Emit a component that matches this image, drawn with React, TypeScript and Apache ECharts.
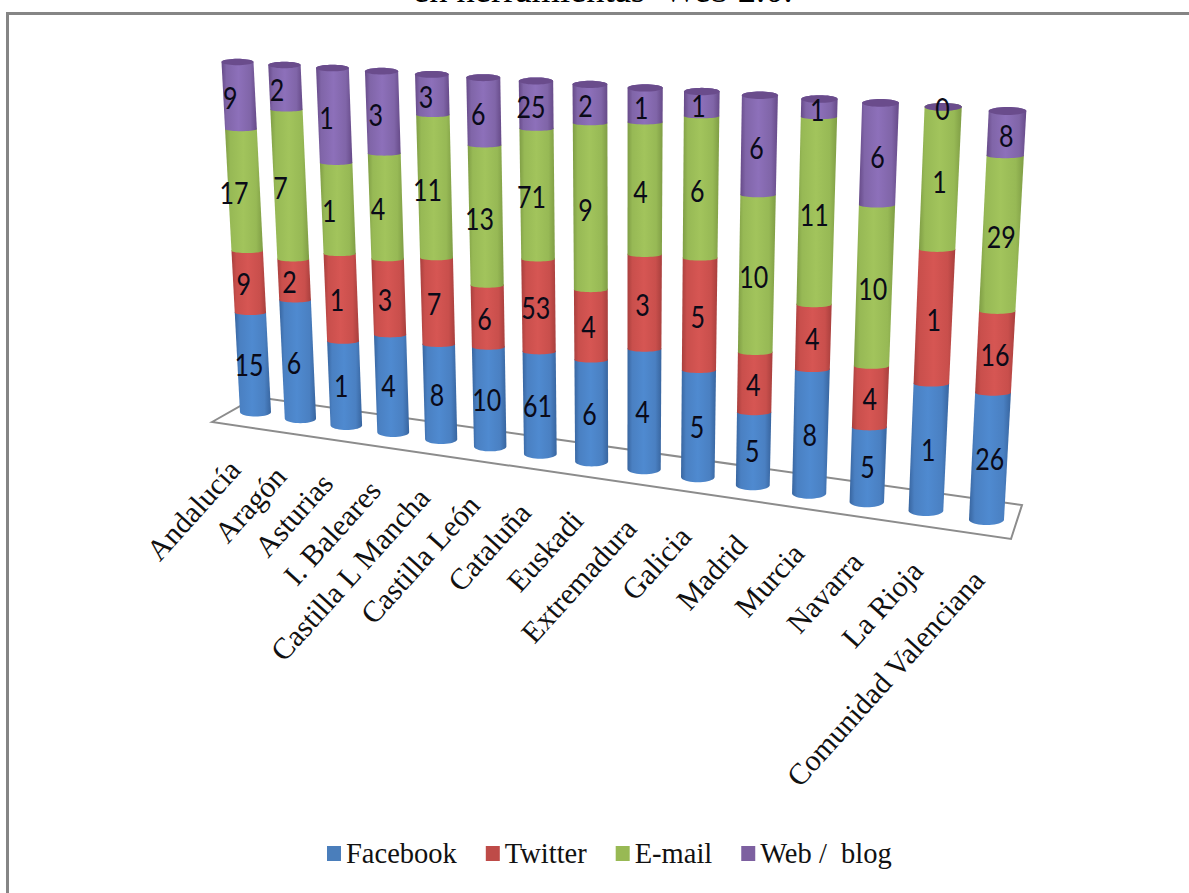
import React, { useEffect, useRef } from "react";
import * as echarts from "echarts";

const categories = ["Andalucía", "Aragón", "Asturias", "I. Baleares", "Castilla L Mancha", "Castilla León", "Cataluña", "Euskadi", "Extremadura", "Galicia", "Madrid", "Murcia", "Navarra", "La Rioja", "Comunidad Valenciana"];
const facebook = [15, 6, 1, 4, 8, 10, 61, 6, 4, 5, 5, 8, 5, 1, 26];
const twitter = [9, 2, 1, 3, 7, 6, 53, 4, 3, 5, 4, 4, 4, 1, 16];
const email = [17, 7, 1, 4, 11, 13, 71, 9, 4, 6, 10, 11, 10, 1, 29];
const webBlog = [9, 2, 1, 3, 3, 6, 25, 2, 1, 1, 6, 1, 6, 0, 8];
const seriesNames = ["Facebook", "Twitter", "E-mail", "Web /  blog"];
const seriesValues = [facebook, twitter, email, webBlog];
const titleText = "en herramientas  Web 2.0.";

const legendColors = ["#4a7ebb", "#be4b48", "#98b954", "#7d60a0"];
const shades = [
  ["#38659f", "#4a80c2", "#4f8ad0"],
  ["#a83f3d", "#c94f4c", "#d65653"],
  ["#7f9d45", "#97b955", "#a2c45c"],
  ["#664a88", "#8065a8", "#8d70ba"],
];
const labelLean = [-4, -5, -10, -9];
const capColor = "#6a4c8c";
const serif = "'Liberation Serif', serif";

// Perspective: unit square (s along the categories, t up the value axis) to the picture plane.
const P0 = [255.5, 412];
const P1 = [986.5, 519.5];
const P2 = [1007.5, 111];
const P3 = [237.5, 62];
const den = (P1[0] - P2[0]) * (P3[1] - P2[1]) - (P3[0] - P2[0]) * (P1[1] - P2[1]);
const sx = P0[0] - P1[0] + P2[0] - P3[0];
const sy = P0[1] - P1[1] + P2[1] - P3[1];
const g = (sx * (P3[1] - P2[1]) - (P3[0] - P2[0]) * sy) / den;
const h = ((P1[0] - P2[0]) * sy - sx * (P1[1] - P2[1])) / den;
const warp = (t: number) => t / (1 + 0.03 * (1 - t));
const project = (s: number, rawT: number) => {
  const t = warp(rawT);
  const w = g * s + h * t + 1;
  return [
    ((P1[0] - P0[0] + g * P1[0]) * s + (P3[0] - P0[0] + h * P3[0]) * t + P0[0]) / w,
    ((P1[1] - P0[1] + g * P1[1]) * s + (P3[1] - P0[1] + h * P3[1]) * t + P0[1]) / w,
  ];
};
const mix = (a: number, b: number, k: number) => a + (b - a) * k;
const halfWidth = (s: number, t: number) => mix(mix(15.5, 17.5, s), mix(16, 18.8, s), warp(t));
const minor = (s: number, t: number) => mix(mix(4.5, 5.5, s), mix(3.2, 4, s), warp(t));

const toUnit = (params: any, pt: number[]) => {
  const c = params.coordSys;
  return [(pt[0] - c.x) / c.width, (c.y + c.height - pt[1]) / c.height];
};

const arc = (s: number, t: number, from: number, to: number, flatten = 1) => {
  const [cx, cy] = project(s, t);
  const a = halfWidth(s, t);
  const b = minor(s, t) * flatten;
  const out: number[][] = [];
  for (let n = 0; n <= 20; n++) {
    const ang = from + ((to - from) * n) / 20;
    out.push([cx + a * Math.cos(ang), cy + b * Math.sin(ang)]);
  }
  return out;
};

const segmentSeries = (name: string, values: number[], index: number) => ({
  type: "custom",
  name,
  coordinateSystem: "cartesian2d",
  itemStyle: { color: legendColors[index] },
  encode: { x: 0, y: [1, 2] },
  z: 2 + index,
  data: categories.map((_, i) => {
    const total = seriesValues.reduce((a, v) => a + v[i], 0);
    const below = seriesValues.slice(0, index).reduce((a, v) => a + v[i], 0);
    return [i, (below / total) * 100, ((below + values[i]) / total) * 100, values[i]];
  }),
  renderItem: (params: any, api: any) => {
    const [s, t0] = toUnit(params, api.coord([api.value(0), api.value(1)]));
    const [, t1] = toUnit(params, api.coord([api.value(0), api.value(2)]));
    const bottomArc = arc(s, t0, 0, Math.PI, index === 0 ? 1 : 0.6); // front of the lower ellipse
    const topArc = arc(s, t1, Math.PI, 2 * Math.PI); // back of the upper ellipse
    const c = shades[index];
    const children: any[] = [
      {
        type: "polygon",
        shape: { points: [...bottomArc, ...topArc] },
        style: {
          fill: new echarts.graphic.LinearGradient(0, 0, 1, 0, [
            { offset: 0, color: c[0] },
            { offset: 0.14, color: c[1] },
            { offset: 0.48, color: c[2] },
            { offset: 0.82, color: c[1] },
            { offset: 1, color: c[0] },
          ]),
        },
      },
    ];
    if (index === seriesValues.length - 1) {
      children.push({
        type: "polygon",
        shape: { points: [...arc(s, 1, 0, Math.PI), ...arc(s, 1, Math.PI, 2 * Math.PI)] },
        style: { fill: capColor },
      });
    }
    const [lx, ly] = project(s, (t0 + t1) / 2);
    children.push({
      type: "text",
      x: lx + labelLean[index] * (1 - s),
      y: ly + 2,
      scaleY: 1.2,
      z2: 10,
      style: {
        text: String(api.value(3)),
        fontFamily: "Lato",
        fontSize: 25,
        fill: "#0a0a18",
        align: "center",
        verticalAlign: "middle",
      },
    });
    return { type: "group", children };
  },
});

const categorySeries = {
  type: "custom",
  name: "Comunidades",
  coordinateSystem: "cartesian2d",
  encode: { x: 0, y: 1 },
  z: 1,
  data: categories.map((_, i) => [i, 0]),
  renderItem: (params: any, api: any) => {
    const [s] = toUnit(params, api.coord([api.value(0), 0]));
    const [x, y] = project(s, 0);
    return {
      type: "text",
      x: x - 13 * (1 - s) + 3,
      y: y + 53 + 3 * s + 9,
      rotation: (48 * Math.PI) / 180,
      style: {
        text: categories[api.value(0)],
        fontFamily: serif,
        fontSize: 30,
        fill: "#111",
        align: "right",
        verticalAlign: "bottom",
      },
    };
  },
};

export default function App() {
  const ref = useRef<HTMLDivElement>(null);
  useEffect(() => {
    const chart = echarts.init(ref.current!, undefined, { renderer: "svg" });
    chart.setOption({
      animation: false,
      backgroundColor: "#fff",
      title: {
        text: titleText,
        left: 413,
        top: -29,
        padding: 0,
        textStyle: { fontFamily: serif, fontSize: 36.5, fontWeight: "normal", color: "#000" },
      },
      grid: { left: 0, top: 0, width: 1189, height: 893 },
      xAxis: { type: "category", data: categories, boundaryGap: false, show: false },
      yAxis: { type: "value", min: 0, max: 100, show: false },
      legend: {
        left: 327,
        top: 839,
        padding: 0,
        icon: "rect",
        itemWidth: 14,
        itemHeight: 15,
        itemGap: 29,
        data: seriesNames,
        textStyle: { fontFamily: serif, fontSize: 28.5, color: "#111" },
      },
      graphic: [
        {
          type: "polyline",
          shape: { points: [[7.5, 893], [7.5, 13.5], [1189, 13.5]] },
          style: { stroke: "#858585", lineWidth: 3, fill: "none" },
        },
        {
          type: "polygon",
          shape: { points: [[212, 422], [256, 397], [1022, 505], [1011, 539]] },
          style: { stroke: "#8c8c8c", lineWidth: 2, fill: "#fff" },
        },
      ],
      series: [categorySeries, ...seriesNames.map((n, i) => segmentSeries(n, seriesValues[i], i))],
    });
    return () => chart.dispose();
  }, []);
  return <div ref={ref} style={{ position: "absolute", left: 0, top: 0, width: 1189, height: 893 }} />;
}
